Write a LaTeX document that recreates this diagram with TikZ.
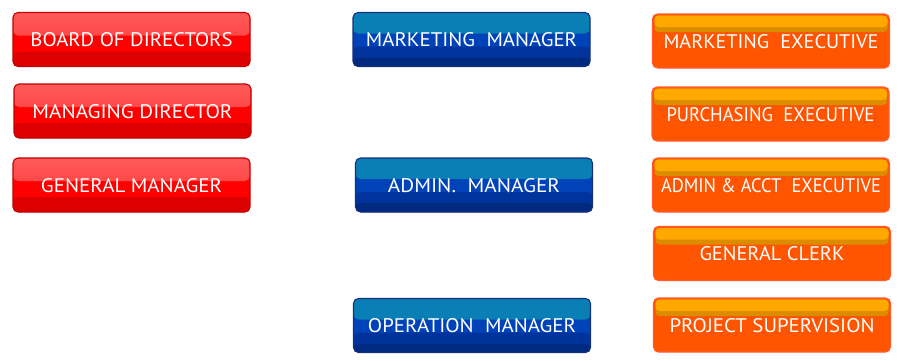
\documentclass[tikz,border=0pt]{standalone}
\usepackage{fontspec}
\setmainfont{PT Sans}
\usetikzlibrary{calc}
\definecolor{rTopA}{HTML}{FF5A5A}
\definecolor{rTopB}{HTML}{FF3030}
\definecolor{rMid}{HTML}{FF0000}
\definecolor{rBot}{HTML}{DC0000}
\definecolor{rEdge}{HTML}{C40000}
\definecolor{bTop}{HTML}{0A7FB6}
\definecolor{bMid}{HTML}{0042B8}
\definecolor{bLow}{HTML}{00349C}
\definecolor{bBot}{HTML}{002A80}
\definecolor{bEdge}{HTML}{17307A}
\definecolor{oTop}{HTML}{FFA800}
\definecolor{oBand}{HTML}{DC8C00}
\definecolor{oMid}{HTML}{FF5500}
\definecolor{oEdge}{HTML}{FF5A30}
\tikzset{
  btn/.style={rounded corners=5pt, minimum width=237pt, minimum height=54pt,
    inner sep=0pt, text=white, font=\fontsize{18}{20}\selectfont,
    text height=14pt, text depth=0pt, line width=1.1pt},
  redbtn/.style={btn, draw=rEdge, fill=rMid, path picture={
    \fill[top color=rTopA, bottom color=rTopB]
      (path picture bounding box.north west) rectangle ([yshift=-23pt]path picture bounding box.north east);
    \fill[rBot] ([yshift=15pt]path picture bounding box.south west) rectangle (path picture bounding box.south east);
  }},
  bluebtn/.style={btn, draw=bEdge, fill=bMid, path picture={
    \fill[bTop]
      (path picture bounding box.north west) rectangle ([yshift=-21pt]path picture bounding box.north east);
    \fill[bLow] ([yshift=20pt]path picture bounding box.south west) rectangle (path picture bounding box.south east);
    \fill[bBot] ([yshift=9pt]path picture bounding box.south west) rectangle (path picture bounding box.south east);
  }},
  orangebtn/.style={btn, draw=oEdge, fill=oMid, path picture={
    \fill[oBand, rounded corners=4pt]
      ([xshift=2pt,yshift=-1.5pt]path picture bounding box.north west) rectangle ([xshift=-2pt,yshift=-18pt]path picture bounding box.north east);
    \fill[oTop, rounded corners=4pt]
      ([xshift=2pt,yshift=-1.5pt]path picture bounding box.north west) rectangle ([xshift=-2pt,yshift=-13pt]path picture bounding box.north east);
  }},
}
\newcommand{\dsp}{\hspace{0.55em}}
\newcommand{\fitlabel}[2]{\resizebox{#1pt}{14pt}{#2}}
\begin{document}
\begin{tikzpicture}[x=1pt,y=1pt]
\useasboundingbox (0,0) rectangle (900,360);
% red column
\node[redbtn] (board) at (131.5,320.5) {\fitlabel{202}{BOARD OF DIRECTORS}};
\node[redbtn] (md) at (132.5,249) {\fitlabel{200}{MANAGING DIRECTOR}};
\node[redbtn] (gm) at (131.5,175) {\fitlabel{181}{GENERAL MANAGER}};
% blue column
\node[bluebtn] (mm) at (471.5,320.5) {\fitlabel{211}{MARKETING\dsp MANAGER}};
\node[bluebtn] (am) at (474,175) {\fitlabel{172}{ADMIN.\dsp MANAGER}};
\node[bluebtn] (om) at (472,34.5) {\fitlabel{208}{OPERATION\dsp MANAGER}};
% orange column
\node[orangebtn] (me) at (771,319) {\fitlabel{215}{MARKETING\dsp EXECUTIVE}};
\node[orangebtn] (pe) at (770.5,246) {\fitlabel{208}{PURCHASING\dsp EXECUTIVE}};
\node[orangebtn] (ae) at (771,175) {\fitlabel{220}{ADMIN \& ACCT\dsp EXECUTIVE}};
\node[orangebtn] (gc) at (772,106.5) {\fitlabel{145}{GENERAL CLERK}};
\node[orangebtn] (ps) at (772,35) {\fitlabel{205}{PROJECT SUPERVISION}};
\end{tikzpicture}
\end{document}
